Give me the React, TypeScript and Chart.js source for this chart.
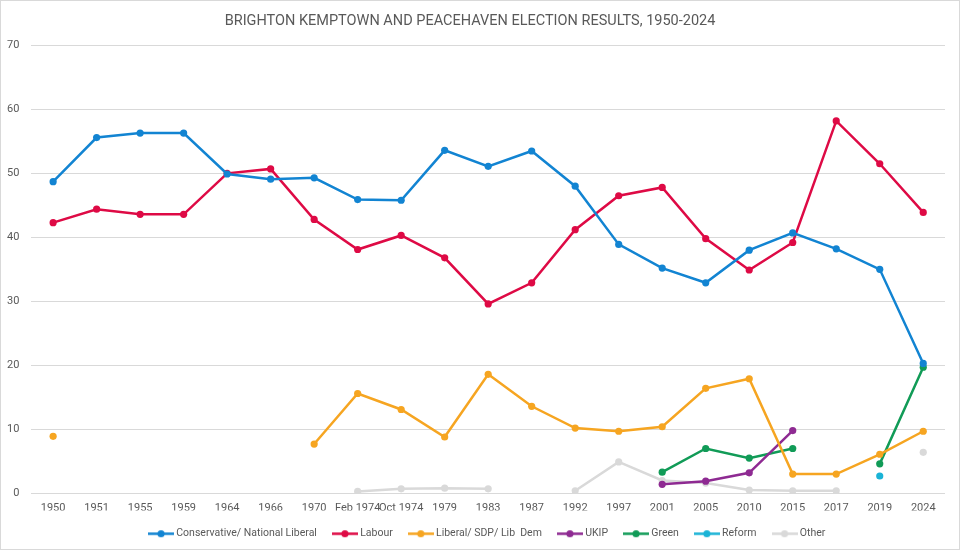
import { useRef, useEffect } from 'react'
import Chart from 'chart.js/auto'

const years = [
  '1950', '1951', '1955', '1959', '1964', '1966', '1970', 'Feb 1974', 'Oct 1974', '1979',
  '1983', '1987', '1992', '1997', '2001', '2005', '2010', '2015', '2017', '2019', '2024',
]

const conservative = [48.7, 55.6, 56.3, 56.3, 49.9, 49.1, 49.3, 45.9, 45.8, 53.6, 51.1, 53.5, 48.0, 38.9, 35.2, 32.9, 38.0, 40.7, 38.2, 35.0, 20.3]
const labour = [42.3, 44.4, 43.6, 43.6, 50.0, 50.7, 42.8, 38.1, 40.3, 36.8, 29.6, 32.9, 41.2, 46.5, 47.8, 39.8, 34.9, 39.2, 58.2, 51.5, 43.9]
const libDem = [8.9, null, null, null, null, null, 7.7, 15.6, 13.1, 8.8, 18.6, 13.6, 10.2, 9.7, 10.4, 16.4, 17.9, 3.0, 3.0, 6.1, 9.7]
const ukip = [null, null, null, null, null, null, null, null, null, null, null, null, null, null, 1.4, 1.9, 3.2, 9.8, null, null, null]
const green = [null, null, null, null, null, null, null, null, null, null, null, null, null, null, 3.3, 7.0, 5.5, 7.0, null, 4.6, 19.7]
const reform = [null, null, null, null, null, null, null, null, null, null, null, null, null, null, null, null, null, null, null, 2.7, null]
const other = [null, null, null, null, null, null, null, 0.3, 0.7, 0.8, 0.7, null, 0.4, 4.9, 2.0, 1.6, 0.5, 0.4, 0.4, null, 6.4]

const seriesNames = ['Conservative/ National Liberal', 'Labour', 'Liberal/ SDP/ Lib  Dem', 'UKIP', 'Green', 'Reform', 'Other']
const seriesData = [conservative, labour, libDem, ukip, green, reform, other]
const seriesColors = ['#1284d2', '#de0a45', '#f6a521', '#8e2a92', '#119b57', '#1ab3d6', '#d9d9d9']

const FONT = "Roboto, 'Liberation Sans', sans-serif"
const TEXT = '#595959'

function legendMarker(color: string) {
  const c = document.createElement('canvas')
  c.width = 26
  c.height = 9
  const ctx = c.getContext('2d')!
  ctx.strokeStyle = color
  ctx.lineWidth = 2.5
  ctx.beginPath()
  ctx.moveTo(0, 4.5)
  ctx.lineTo(26, 4.5)
  ctx.stroke()
  ctx.fillStyle = color
  ctx.beginPath()
  ctx.arc(13, 4.5, 3.6, 0, Math.PI * 2)
  ctx.fill()
  return c
}

export default function App() {
  const canvasRef = useRef<HTMLCanvasElement>(null)
  const chartRef = useRef<Chart | null>(null)

  useEffect(() => {
    document.body.style.margin = '0'
    if (!canvasRef.current) return
    Chart.getChart(canvasRef.current)?.destroy()

    const markers = seriesColors.map(legendMarker)

    chartRef.current = new Chart(canvasRef.current, {
      type: 'line',
      data: {
        labels: years,
        datasets: seriesNames.map((name, i) => ({
          label: name,
          data: seriesData[i],
          borderColor: seriesColors[i],
          backgroundColor: seriesColors[i],
          borderWidth: 2.5,
          pointRadius: 3.6,
          pointHoverRadius: 4,
          pointBorderWidth: 0,
          tension: 0,
        })),
      },
      options: {
        responsive: true,
        maintainAspectRatio: false,
        animation: false,
        layout: { padding: { left: -6, right: 14, top: 0, bottom: 0 } },
        plugins: {
          title: {
            display: true,
            text: 'BRIGHTON KEMPTOWN AND PEACEHAVEN ELECTION RESULTS, 1950-2024',
            color: TEXT,
            font: { family: FONT, size: 14.5, weight: 'normal' },
            padding: { top: 12, bottom: 15 },
          },
          legend: {
            position: 'bottom',
            fullSize: false,
            labels: {
              usePointStyle: true,
              pointStyleWidth: 20,
              padding: 18,
              color: TEXT,
              font: { family: FONT, size: 10.5 },
              generateLabels: (chart) =>
                Chart.defaults.plugins.legend.labels.generateLabels(chart).map((l, i) => ({
                  ...l,
                  pointStyle: markers[i],
                })),
            },
          },
        },
        scales: {
          x: {
            offset: true,
            grid: { display: false, drawTicks: false },
            border: { display: false },
            ticks: {
              color: TEXT,
              font: { family: FONT, size: 11 },
              autoSkip: false,
              maxRotation: 0,
              padding: 8,
            },
            // let the labels sit closer to the legend, as in the original
            afterFit: (scale) => { scale.height -= 12 },
          },
          y: {
            min: 0,
            max: 70,
            grid: { color: '#d9d9d9', drawTicks: false },
            border: { display: false },
            ticks: {
              stepSize: 10,
              color: TEXT,
              font: { family: FONT, size: 11 },
              padding: 12,
            },
          },
        },
      },
    })

    return () => { chartRef.current?.destroy(); chartRef.current = null }
  }, [])

  return (
    <div style={{ width: 960, height: 550, boxSizing: 'border-box', border: '1px solid #d9d9d9', background: '#fff' }}>
      <div style={{ width: 958, height: 548, position: 'relative' }}>
        <canvas ref={canvasRef} />
      </div>
    </div>
  )
}
